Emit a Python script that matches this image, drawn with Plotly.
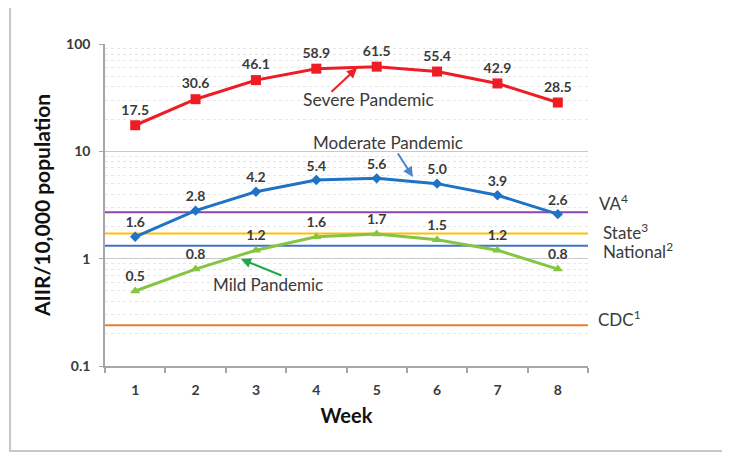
import plotly.graph_objects as go
import math

weeks = [1, 2, 3, 4, 5, 6, 7, 8]
severe = [17.5, 30.6, 46.1, 58.9, 61.5, 55.4, 42.9, 28.5]
moderate = [1.6, 2.8, 4.2, 5.4, 5.6, 5.0, 3.9, 2.6]
mild = [0.5, 0.8, 1.2, 1.6, 1.7, 1.5, 1.2, 0.8]

ref_names = ["VA<sup>4</sup>", "State<sup>3</sup>", "National<sup>2</sup>", "CDC<sup>1</sup>"]
ref_values = [2.7, 1.72, 1.32, 0.24]
ref_colors = ["#8E44AD", "#FFC000", "#4472C4", "#ED7D31"]
ref_label_shift = [10, 2, -5, 7]
ref_label_xshift = [9, 13, 13, 8]

FONT = "Lato"
TXT = "#3a3a3a"

fig = go.Figure()

for name, val, col in zip(ref_names, ref_values, ref_colors):
    fig.add_trace(go.Scatter(x=[0.5, 8.5], y=[val, val], mode="lines",
                             line=dict(color=col, width=2), showlegend=False,
                             hoverinfo="skip"))

def series(vals, color, symbol, size):
    fig.add_trace(go.Scatter(
        x=weeks, y=vals, mode="lines+markers+text",
        line=dict(color=color, width=3),
        marker=dict(symbol=symbol, size=size, color=color),
        text=[f"{v:.1f}" for v in vals], textposition="top center",
        textfont=dict(family=FONT, size=14, color=TXT, weight="bold"),
        showlegend=False))

series(severe, "#EE1C25", "square", 10)
series(moderate, "#1F73C7", "diamond", 8)
series(mild, "#86C443", "triangle-up", 9)

# page body has an 8px margin, so margins are reduced by 8 on left/top
fig.update_layout(
    width=730, height=452,
    margin=dict(l=97, r=150, t=36, b=94),
    paper_bgcolor="white", plot_bgcolor="white",
    font=dict(family=FONT, color=TXT),
    xaxis=dict(range=[0.5, 8.5], tickmode="array", tickvals=weeks,
               ticktext=[str(w) for w in weeks], ticks="",
               showgrid=False, zeroline=False,
               showline=True, linecolor="#a6a6a6", linewidth=1.5,
               tickfont=dict(family=FONT, size=14, color=TXT, weight="bold"),
               ticklabelstandoff=10,
               minor=dict(ticks="outside", tick0=0.5, dtick=1, ticklen=5,
                          tickcolor="#a6a6a6", tickwidth=1.5, showgrid=False),
               title=dict(text="Week", font=dict(family=FONT, size=20, color="#111", weight="bold"),
                          standoff=12)),
    yaxis=dict(type="log", range=[-1, 2], tickvals=[0.1, 1, 10, 100],
               ticktext=["0.1", "1", "10", "100"],
               ticks="outside", ticklen=4, tickcolor="#a6a6a6",
               showline=True, linecolor="#a6a6a6", linewidth=1.5,
               showgrid=True, gridcolor="#c8c8c8", gridwidth=1,
               zeroline=False,
               tickfont=dict(family=FONT, size=14, color=TXT, weight="bold"),
               ticklabelstandoff=6,
               minor=dict(showgrid=True, dtick="D1", gridcolor="#e6e6e6",
                          griddash="dot", gridwidth=1),
               title=dict(text="AIIR/10,000 population",
                          font=dict(family=FONT, size=21, color="#111", weight="bold"),
                          standoff=10)),
)

# Reference line labels
for name, val, sh, xs in zip(ref_names, ref_values, ref_label_shift, ref_label_xshift):
    fig.add_annotation(x=8.5, y=math.log10(val), text=name, showarrow=False,
                       xanchor="left", xshift=xs, yshift=sh,
                       font=dict(family=FONT, size=17, color=TXT))

# Series labels
fig.add_annotation(x=4.86, y=math.log10(30.7), text="Severe Pandemic", showarrow=False,
                   font=dict(family=FONT, size=17.5, color=TXT))
fig.add_annotation(x=5.19, y=math.log10(11.96), text="Moderate Pandemic", showarrow=False,
                   font=dict(family=FONT, size=17, color=TXT))
fig.add_annotation(x=3.2, y=math.log10(0.58), text="Mild Pandemic", showarrow=False,
                   font=dict(family=FONT, size=17, color=TXT))

# Arrows
fig.add_annotation(x=4.674, y=math.log10(59.7), text="", showarrow=True,
                   ax=-27, ay=25, arrowhead=2, arrowsize=1, arrowwidth=2,
                   arrowcolor="#EE1C25")
fig.add_annotation(x=5.6, y=math.log10(5.77), text="", showarrow=True,
                   ax=-16, ay=-25, arrowhead=2, arrowsize=1, arrowwidth=2,
                   arrowcolor="#4A86C8")
fig.add_annotation(x=2.753, y=math.log10(0.99), text="", showarrow=True,
                   ax=42, ay=17, arrowhead=2, arrowsize=1, arrowwidth=2,
                   arrowcolor="#1EAA4A")

# outer frame
fig.add_shape(type="rect", xref="paper", yref="paper",
              x0=(10 - 105) / 483, x1=(740 - 105) / 483,
              y0=(366 - 451) / 322, y1=(366 - 6) / 322,
              line=dict(color="#c8c8c8", width=2), layer="below")

fig.write_html("out.html")
